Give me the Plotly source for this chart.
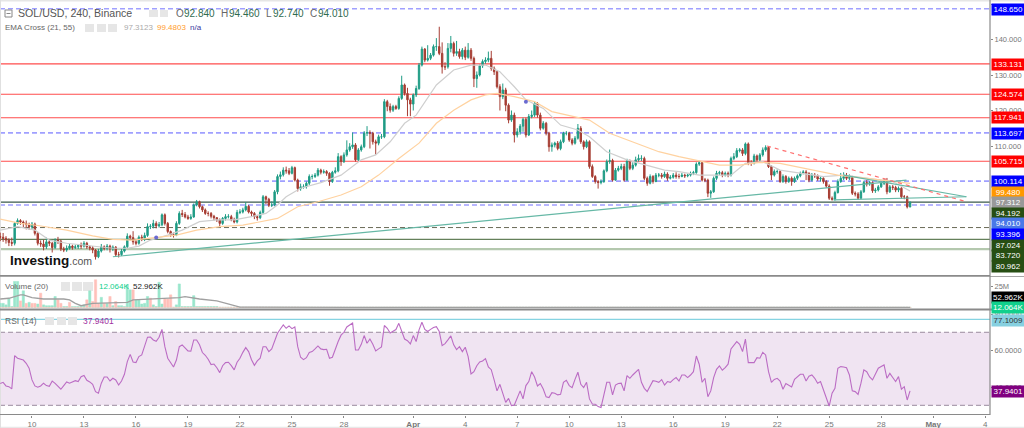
import pandas as pd
import plotly.graph_objects as go

# ---------- data ----------
closes = [84.3,84.0,83.5,82.8,82.6,88.2,89.0,88.6,88.2,87.9,87.2,88.0,85.4,82.6,82.4,81.6,83.0,82.6,81.4,83.5,
83.2,81.0,80.7,81.2,81.8,81.4,81.6,82.0,81.8,82.6,81.6,81.3,80.7,78.8,80.4,81.6,81.2,81.8,81.0,81.5,
79.4,79.4,80.4,81.6,84.6,84.2,83.0,82.6,84.3,84.0,84.8,87.3,87.4,88.2,87.5,87.8,90.6,88.2,85.9,85.0,
84.9,88.2,91.0,90.7,90.0,89.6,90.0,93.4,94.3,92.9,92.0,91.0,91.0,90.2,89.8,89.2,88.2,89.6,90.1,90.1,
89.2,88.6,91.3,91.4,92.0,93.0,91.4,91.0,90.1,89.8,91.3,95.7,95.0,93.3,93.4,97.1,101.4,101.9,103.2,103.0,
102.3,103.9,100.4,98.0,98.5,98.5,99.5,101.4,101.4,101.8,103.2,102.6,102.8,102.3,100.0,102.6,103.0,107.0,105.6,107.5,
108.9,109.8,110.3,106.1,108.9,109.8,113.6,113.8,113.6,111.2,110.8,112.6,112.6,122.5,121.1,120.1,121.1,120.6,123.4,127.2,
124.8,123.0,121.8,124.4,126.2,132.8,137.3,134.2,134.7,135.6,138.0,138.0,136.1,132.3,132.3,137.5,138.9,136.1,136.6,135.2,
137.0,135.0,137.0,134.7,129.0,130.0,132.6,133.8,134.2,134.7,131.9,130.9,126.7,123.9,125.8,121.5,117.3,118.7,113.1,114.0,
115.6,117.5,113.1,118.3,118.7,122.0,118.7,115.0,116.4,113.6,109.8,110.3,110.8,109.3,111.2,113.6,113.6,111.7,110.8,112.2,
115.0,111.2,109.8,111.2,104.2,101.4,100.0,99.7,100.0,103.0,105.6,105.9,100.4,103.2,103.7,104.2,100.4,105.8,103.7,104.6,
106.1,106.5,106.5,100.9,99.5,101.4,100.0,101.8,101.8,101.4,102.1,100.9,101.2,101.8,101.4,101.4,101.8,101.6,101.8,102.3,
102.5,104.9,105.3,100.4,100.4,96.7,97.1,100.9,102.3,102.5,101.8,102.3,101.8,106.5,107.0,108.7,108.9,107.9,110.6,105.1,
105.1,107.2,106.1,107.5,108.9,109.6,104.2,101.8,102.8,102.8,100.0,101.4,100.0,100.9,100.0,100.9,101.6,102.3,102.7,102.3,
100.4,101.8,101.6,100.7,100.9,100.0,98.7,95.3,95.0,96.9,100.0,100.9,101.4,100.9,101.1,96.7,96.5,95.3,97.1,99.7,
99.3,99.7,97.4,97.6,98.5,99.5,100.2,97.1,98.5,98.3,97.6,98.1,95.7,95.7,92.84,94.01]
highs = [85.6,85.5,84.6,84.0,84.2,88.6,89.6,89.4,89.0,89.0,88.4,88.6,88.4,85.8,83.4,83.6,84.2,83.6,83.0,84.0,
84.4,83.6,81.6,82.0,82.4,82.2,82.2,82.4,82.8,83.2,83.0,82.0,81.8,81.0,81.0,82.4,82.0,82.4,82.2,82.0,
81.8,80.2,81.0,82.0,85.4,85.0,86.0,83.6,84.8,85.0,85.6,88.2,88.0,89.2,88.8,88.6,91.0,91.0,88.6,86.2,
85.6,88.8,91.6,92.0,91.4,90.6,90.8,93.8,94.8,94.6,93.2,92.4,91.6,91.4,90.6,90.0,89.6,90.0,90.8,90.8,
90.6,89.8,92.0,92.2,92.6,94.2,93.4,91.8,91.4,90.6,91.8,96.2,96.0,95.4,94.4,97.6,102.0,102.8,104.0,104.2,
103.8,104.4,104.2,100.8,99.4,99.2,100.0,102.0,102.0,102.4,103.8,103.6,103.4,103.2,102.6,103.0,104.0,108.0,107.4,108.2,
111.6,110.8,113.8,110.8,109.4,110.4,114.2,115.6,114.4,114.0,111.8,113.2,113.4,123.2,123.0,122.0,121.6,121.6,124.0,129.8,
127.6,126.4,123.6,124.8,127.0,133.4,138.0,137.6,138.4,136.2,138.6,140.4,143.6,139.2,133.6,139.0,141.0,139.4,139.6,137.4,
137.6,138.0,139.0,137.6,135.2,131.0,133.0,134.4,135.0,136.6,136.8,132.4,131.2,127.4,127.6,126.4,122.0,120.0,119.4,115.0,
116.2,118.0,118.0,119.0,120.0,122.6,122.4,119.4,117.0,116.8,114.0,111.0,111.2,111.4,111.8,114.0,114.2,114.0,112.2,112.8,
116.2,115.6,111.6,111.8,111.6,104.8,101.8,100.4,100.6,103.4,106.2,109.0,106.4,103.8,104.4,105.0,105.0,106.4,106.2,105.4,
107.0,107.6,107.4,107.0,101.4,102.0,101.8,102.4,102.4,102.4,102.8,102.6,101.8,102.4,102.6,102.2,102.4,102.2,102.2,102.8,
103.0,105.4,105.8,105.6,101.0,100.8,97.6,101.4,103.0,103.0,103.0,102.8,102.8,107.0,108.0,109.4,109.4,109.4,111.0,111.0,
106.0,107.8,107.6,108.0,109.6,110.2,109.8,104.6,103.4,103.4,103.2,102.0,101.8,101.4,101.4,101.4,102.0,102.8,103.2,103.2,
102.6,102.4,102.4,102.0,101.4,101.2,100.4,99.2,95.8,97.4,100.6,102.4,102.6,102.4,102.0,101.6,97.2,97.0,97.6,100.2,
100.4,100.2,100.0,98.2,99.0,100.0,100.8,101.0,99.0,99.0,98.8,98.6,98.4,96.2,96.0,94.46]
lows = [83.2,83.0,82.5,81.8,81.8,82.0,87.8,87.8,87.0,86.5,86.4,86.6,84.8,82.0,81.6,80.6,81.0,81.8,80.0,81.0,
82.4,80.4,80.1,80.2,80.8,80.8,81.0,81.0,81.0,81.4,81.0,80.6,79.8,78.0,78.4,80.0,80.6,80.6,80.0,80.4,
78.8,78.6,79.0,80.0,81.2,83.4,82.2,82.0,82.2,83.2,83.2,84.4,86.6,86.8,86.8,87.0,87.4,87.6,85.4,84.4,
84.2,84.6,87.8,90.0,89.6,89.2,89.2,89.8,93.0,92.4,91.4,90.6,90.2,89.6,89.0,88.6,87.2,87.8,89.0,89.6,
88.8,88.2,88.2,90.8,91.0,91.6,91.0,90.2,89.4,89.0,89.4,90.8,93.6,92.8,92.8,93.0,96.4,100.6,101.4,102.2,
101.8,102.0,100.0,97.2,97.4,98.0,98.0,99.0,100.6,101.0,101.4,102.0,102.2,101.6,98.8,99.6,102.2,102.6,104.4,105.2,
107.0,108.4,109.2,105.6,105.8,108.4,109.4,112.8,109.3,110.4,107.6,110.2,112.0,112.2,119.8,119.4,119.6,120.2,120.2,123.0,
124.2,118.4,118.4,120.0,123.8,125.8,132.4,133.6,133.8,134.2,135.2,136.8,135.6,130.4,131.4,131.8,136.4,135.2,135.4,134.6,
134.4,134.2,134.6,134.0,126.6,126.4,129.6,132.0,133.2,133.6,131.2,130.0,126.2,120.0,123.2,119.8,116.4,116.8,111.0,112.4,
113.2,114.0,112.4,112.8,117.8,118.2,118.0,114.4,114.6,113.0,108.4,108.4,109.6,108.8,108.8,110.8,113.0,111.2,110.2,110.4,
111.8,110.6,109.0,109.4,103.6,101.0,99.4,98.0,99.2,99.6,102.6,105.0,100.0,100.2,102.8,103.2,100.0,100.2,103.2,103.2,
104.2,105.6,105.8,100.4,98.8,99.2,99.4,99.8,101.2,100.8,101.0,100.2,100.6,100.8,100.8,100.8,101.2,101.0,101.2,101.4,
101.8,102.2,104.4,100.0,99.8,95.6,95.4,96.8,100.4,101.8,101.2,101.4,101.2,101.4,106.0,106.6,108.2,107.2,107.4,104.6,
104.4,104.8,105.4,105.6,107.0,108.4,103.8,100.4,101.4,102.2,99.6,99.6,99.4,99.6,98.8,99.6,100.4,101.2,102.0,100.4,
99.8,100.0,101.0,100.2,100.0,99.4,98.2,94.8,94.6,94.6,96.6,99.6,100.4,100.4,100.4,96.2,95.8,94.8,95.0,96.8,
98.6,98.8,96.8,96.8,97.2,98.2,99.0,96.4,96.8,97.6,97.0,97.0,95.2,95.0,92.4,92.74]
opens = [84.5] + closes[:-1]

ema21_idx = [0,6,12,17,23,29,35,39,44,48,52,58,63,69,75,81,87,92,96,99,104,111,118,125,130,135,140,144,151,157,163,168,173,178,182,188,194,200,204,210,217,224,230,235,242,246,253,258,264,270,278,285,292,300,309,315]
ema21_val = [86.3,87.3,86.3,83.5,82.6,82.1,81.5,81.2,81.2,81.8,83.5,84.9,86.3,88.7,89.2,89.2,90.1,91.0,93.4,95.7,98.1,99.7,101.8,106.1,107.5,111.2,116.4,118.7,127.2,131.4,132.8,132.8,130.9,126.7,123.0,120.6,115.9,114.5,112.6,108.4,106.1,104.6,103.2,102.8,101.8,101.8,101.8,105.1,105.6,103.2,102.3,101.4,101.8,100.9,100.0,97.31]
ema55_idx = [0,7,13,23,32,39,46,54,61,68,76,84,96,103,110,118,125,131,138,145,151,157,163,168,172,178,185,191,198,204,211,220,228,235,242,249,256,263,270,281,290,300,309,315]
ema55_val = [89.4,88.2,87.6,86.3,84.7,83.7,83.5,84.3,84.9,86.3,87.3,87.7,89.6,92.9,94.3,96.2,98.5,101.8,106.5,110.8,116.4,120.1,123.0,124.4,124.8,123.9,122.5,119.7,118.3,117.3,113.6,110.8,108.4,107.0,105.8,104.6,104.6,105.4,105.1,103.2,101.8,100.9,100.0,99.48]
anchor_idx = [54,182]
anchor_val = [84.2,122.5]

rsi_values = [41.9,42.6,40.6,40.2,39.0,57.2,55.8,55.2,54.8,53.0,50.3,43.9,40.6,39.9,40.6,42.1,40.8,40.4,43.3,42.0,
40.2,38.8,40.8,42.8,42.1,42.6,43.5,43.0,45.7,46.3,43.7,42.8,41.5,37.5,36.6,42.1,45.5,45.5,43.3,44.8,
43.9,41.1,43.3,47.0,53.9,57.9,53.7,53.4,56.7,57.6,62.1,67.3,67.4,65.8,65.1,67.3,71.6,62.1,55.8,53.0,
51.0,54.8,62.1,63.1,61.4,59.8,59.6,65.8,65.8,63.2,58.9,57.4,55.2,52.3,52.6,50.6,47.9,51.7,53.4,53.6,
51.7,49.4,53.6,55.8,59.0,61.6,59.4,55.0,51.9,54.3,55.8,62.1,62.1,59.4,60.9,64.9,69.5,71.8,74.0,72.2,
73.5,72.0,72.9,62.1,56.3,55.0,56.1,58.9,59.4,60.9,62.5,60.9,60.5,60.7,55.8,56.3,60.9,64.9,68.4,70.0,
72.9,74.0,75.1,60.3,60.3,63.4,68.2,64.0,66.3,63.4,59.8,60.9,62.0,73.7,72.2,69.6,70.4,71.5,74.9,70.4,
66.3,65.4,63.6,68.2,64.9,71.3,75.5,71.6,70.4,71.6,72.6,73.1,70.4,62.7,63.8,65.8,68.0,63.1,60.5,62.1,
59.4,61.8,56.7,47.2,48.4,51.7,53.7,54.3,55.6,51.0,49.5,43.9,37.9,41.5,36.6,31.6,33.8,29.8,30.2,34.2,
37.9,33.5,40.8,43.0,48.4,45.5,40.6,41.9,38.9,34.6,34.2,36.9,36.6,35.7,36.0,42.6,43.7,40.8,39.7,44.2,
48.1,41.5,39.7,42.6,33.5,30.7,30.6,29.3,28.8,35.7,42.6,42.6,35.7,41.1,41.9,42.1,37.9,46.3,44.8,46.6,
48.4,49.7,42.6,39.3,37.5,40.6,43.5,43.2,42.6,44.1,41.1,43.0,42.6,44.1,45.2,43.3,46.6,46.6,45.2,46.6,
48.4,57.0,52.5,42.6,44.8,34.7,37.9,45.2,49.7,51.6,49.2,50.6,52.5,60.9,62.7,64.9,63.4,59.4,66.3,53.4,
53.4,53.4,56.1,55.8,59.0,57.6,48.4,42.6,44.2,44.8,43.3,38.8,41.9,41.1,40.0,44.2,45.7,47.0,47.0,43.3,
45.9,46.6,44.8,42.1,43.0,38.9,34.7,29.6,36.6,39.3,50.3,51.2,51.0,50.6,46.6,37.9,37.5,36.0,42.1,49.4,
48.4,45.5,43.9,47.5,50.3,51.2,52.1,44.8,47.5,45.2,43.0,45.7,38.8,40.2,32.9,37.94]

vol_up_head = [4.8,4.8,3,10.9,1,31,31,0,19.8,0,6,0,0,4,0,3,2,2,2,13,
0,0,1,1,0,1,1,1,1,3,0,19.8,0,0,0,12,0,4.8,0,2,
0,2,2,1,27,21,0,9,9,4,4.8,13,0,3,1,30,4,0,0,0,
0,3,28,1,1,1,1,14,1,1,1,1,1,1,1,1]
vol_dn_head = [0,0,0,0,0,0,0,7.7,0,4.8,0,4.8,4.8,0,17,0,0,0,0,0,
9,4.8,0,0,6,0,0,0,0,0,9,0,7,33,4.8,0,4.8,0,13,0,
7,0,0,0,0,0,21,0,0,0,0,0,11,0,0,0,0,10,10,15,
0,0,0,0,0,0,0,0,0,0,0,0,0,0,0,0]
vol_tail = [0.08,0.06,0.05,0.07,0.06,0.05,0.09,0.06,0.05,0.06,0.07,0.05,0.06,0.08,0.05,0.05,0.06,0.07,0.05,0.06,
0.08,0.07,0.06,0.05,0.05,0.06,0.08,0.05,0.06,0.07,0.06,0.05,0.07,0.05,0.06,0.05,0.09,0.07,0.05,0.06,
0.05,0.06,0.08,0.06,0.05,0.07,0.05,0.06,0.05,0.06,0.09,0.06,0.05,0.07,0.06,0.05,0.06,0.08,0.05,0.06,
0.07,0.05,0.06,0.05,0.08,0.06,0.05,0.07,0.06,0.05,0.09,0.07,0.06,0.05,0.06,0.07,0.05,0.06,0.08,0.05,
0.06,0.05,0.07,0.06,0.05,0.06,0.08,0.07,0.05,0.06,0.05,0.06,0.07,0.05,0.09,0.06,0.05,0.06,0.07,0.05,
0.06,0.08,0.05,0.06,0.07,0.05,0.06,0.05,0.08,0.06,0.05,0.07,0.06,0.05,0.06,0.09,0.07,0.05,0.06,0.05,
0.06,0.07,0.05,0.08,0.06,0.05,0.06,0.07,0.05,0.06,0.08,0.05,0.06,0.07,0.06,0.05,0.09,0.06,0.05,0.07,
0.05,0.06,0.08,0.05,0.06,0.07,0.05,0.06,0.05,0.08,0.06,0.05,0.07,0.06,0.05,0.06,0.07,0.09,0.05,0.06,
0.05,0.06,0.08,0.07,0.05,0.06,0.05,0.07,0.06,0.05,0.08,0.06,0.05,0.06,0.07,0.05,0.09,0.06,0.05,0.06,
0.07,0.05,0.06,0.08,0.05,0.06,0.07,0.05,0.06,0.05,0.08,0.06,0.05,0.07,0.06,0.05,0.06,0.09,0.07,0.05,
0.06,0.05,0.07,0.06,0.05,0.08,0.06,0.05,0.06,0.07,0.05,0.06,0.08,0.05,0.06,0.07,0.05,0.09,0.06,0.05,
0.07,0.06,0.05,0.06,0.08,0.05,0.06,0.07,0.05,0.06,0.05,0.08,0.06,0.05,0.07,0.06,0.05,0.06,0.05,0.012]
vol_ma_idx = [0,3,7,8,11,15,22,24,26,28,32,39,44,46,53,62,64,69,75,79,83,120,200,280,315]
vol_ma_val = [10.0,10.9,14.9,14.9,11.7,10.0,10.0,8.9,4.8,2.0,4.8,6.0,6.0,8.9,10.0,11.7,12.9,10.0,7.7,4.0,0.3,0.06,0.06,0.06,0.053]

dashed_levels = [148.650,113.697,100.114,93.396]
red_levels = [133.131,124.574,117.941,105.715]
rsi_hi, rsi_lo, rsi_mark = 70, 30, 77.1009
tick_dates = ["03-10","03-13","03-16","03-19","03-22","03-25","03-28","04-01","04-04","04-07","04-10","04-13","04-16","04-19","04-22","04-25","04-28","05-01","05-04"]
tick_text = ["10","13","16","19","22","25","28","<b>Apr</b>","4","7","10","13","16","19","22","25","28","<b>May</b>","4"]
price_labels = [("148.650",9,"#0000ff"),("133.131",64.5,"#ff0000"),("124.574",94.5,"#ff0000"),("117.941",117.5,"#ff0000"),
("113.697",133,"#0000ff"),("105.715",161.5,"#ff0000"),("100.114",181,"#0000ff"),("99.480",192,"#ff9800"),("97.312",202.5,"#999999"),
("94.192",213,"#274e13"),("94.010",224,"#4a78e8"),("93.396",234.5,"#0000ff"),("87.024",245.5,"#274e13"),("83.720",256,"#274e13"),("80.962",266.5,"#274e13")]

# ---------- layout helpers ----------
W, H = 1024, 428
FONT = "Liberation Sans"
def py(y): return 1 - y / H
def fx(x): return x / W
YEAR = "2026-"
dates = pd.date_range("2026-03-08 04:00", periods=len(closes), freq="4h")
assert len(opens) == len(highs) == len(lows) == len(rsi_values) == len(closes), (len(closes), len(highs), len(lows), len(rsi_values))
n_tail = len(closes) - len(vol_up_head)
tail = vol_tail[:n_tail]
tail_up = [v if closes[len(vol_up_head) + k] >= opens[len(vol_up_head) + k] else 0 for k, v in enumerate(tail)]
tail_dn = [v if closes[len(vol_up_head) + k] < opens[len(vol_up_head) + k] else 0 for k, v in enumerate(tail)]
vol_up = vol_up_head + tail_up
vol_dn = vol_dn_head + tail_dn

X_RANGE = ["2026-03-08 03:42", "2026-05-04 06:42"]
xr = fx(990)

fig = go.Figure()
fig.add_trace(go.Candlestick(x=dates, open=opens, high=highs, low=lows, close=closes, whiskerwidth=0,
    increasing=dict(line=dict(color="#1f9c85", width=1), fillcolor="#1f9c85"),
    decreasing=dict(line=dict(color="#a63d33", width=1), fillcolor="#a63d33"),
    xaxis="x", yaxis="y", showlegend=False))
fig.add_trace(go.Scatter(x=dates[ema21_idx], y=ema21_val, mode="lines", line=dict(color="#cfcfcf", width=1.2), xaxis="x", yaxis="y", showlegend=False))
fig.add_trace(go.Scatter(x=dates[ema55_idx], y=ema55_val, mode="lines", line=dict(color="#ffd2a0", width=1.2), xaxis="x", yaxis="y", showlegend=False))
fig.add_trace(go.Scatter(x=dates[anchor_idx], y=anchor_val, mode="markers", marker=dict(color="#6a6ad0", size=4), xaxis="x", yaxis="y", showlegend=False))
fig.add_trace(go.Bar(x=dates, y=vol_up, marker=dict(color="#9ae6cc", line=dict(color="#9ae6cc", width=0.5)), xaxis="x2", yaxis="y2", showlegend=False))
fig.add_trace(go.Bar(x=dates, y=vol_dn, marker=dict(color="#ffc0ba", line=dict(color="#ffc0ba", width=0.5)), xaxis="x2", yaxis="y2", showlegend=False))
fig.add_trace(go.Scatter(x=dates[vol_ma_idx], y=vol_ma_val, mode="lines", line=dict(color="#a0a0a0", width=1.3), xaxis="x2", yaxis="y2", showlegend=False))
fig.add_trace(go.Scatter(x=dates, y=rsi_values, mode="lines", line=dict(color="#bb6cc4", width=1.1), xaxis="x3", yaxis="y3", showlegend=False))

shapes = []
def seg(x0, y0, x1, y1, color, width=1, dash=None, layer="above", xref="paper", yref="paper"):
    shapes.append(dict(type="line", x0=x0, y0=y0, x1=x1, y1=y1, xref=xref, yref=yref, layer=layer,
                       line=dict(color=color, width=width, dash=dash or "solid")))
def rect(x0, y0, x1, y1, color):
    shapes.append(dict(type="rect", x0=fx(x0), x1=fx(x1), y0=py(y0), y1=py(y1), xref="paper", yref="paper",
                       fillcolor=color, line=dict(width=0), layer="below"))

for v in dashed_levels:
    seg(0, v, xr, v, "#a0a0ff", 1.6, "5px,3px", "below", yref="y")
for v in red_levels:
    seg(0, v, xr, v, "#ff4d4d", 1.1, None, "below", yref="y")
seg(0, 94.192, xr, 94.192, "#3a5a4a", 1.2, None, "below", yref="y")
seg(0, 87.024, xr, 87.024, "#6a6a58", 1, "5px,3px", "below", yref="y")
seg(0, 83.720, xr, 83.720, "#64805a", 1.2, None, "below", yref="y")
seg(0, 80.962, xr, 80.962, "#b4c8ae", 2.4, None, "below", yref="y")

seg("2026-03-14 16:00", 78.8, "2026-04-29 11:00", 100.4, "#66b8a6", 1.2, None, "above", "x", "y")
seg("2026-04-25 20:00", 101.8, "2026-05-02 22:00", 95.7, "#66b8a6", 1.2, None, "above", "x", "y")
seg("2026-04-25 06:00", 94.8, "2026-05-02 22:00", 95.7, "#66b8a6", 1.2, None, "above", "x", "y")
seg("2026-04-21 10:00", 110.0, "2026-05-02 22:00", 94.3, "#ff7070", 1.2, "4px,4px", "above", "x", "y")

shapes.append(dict(type="rect", x0=0, x1=xr, xref="paper", y0=rsi_lo, y1=rsi_hi, yref="y3", fillcolor="#f0e4f2", line=dict(width=0), layer="below"))
seg(0, rsi_hi, xr, rsi_hi, "#9a8a9e", 1, "5px,3px", "below", yref="y3")
seg(0, rsi_lo, xr, rsi_lo, "#9a8a9e", 1, "5px,3px", "below", yref="y3")
seg(0, rsi_mark, xr, rsi_mark, "#86d4e2", 1.2, None, "below", yref="y3")

seg(0, py(275.5), xr, py(275.5), "#8a8a8a", 1)
seg(0, py(276.5), fx(W), py(276.5), "#909090", 0.8)
seg(0, py(309.5), fx(W), py(309.5), "#8a8a8a", 2)
seg(0, py(414.5), xr, py(414.5), "#8a8a8a", 1)
seg(xr, py(0), xr, py(415), "#8a8a8a", 1.2)
rect(0, 0, W, 1.5, "#e6e6e6")
rect(0, 426.8, W, 428, "#e8e8e8")
rect(0, 0, 1, 428, "#e0e0e0")

for row in [((149, 158), (160, 168)), ((85, 94), (97, 106), (108, 117)), ((61, 70), (72, 82), (83, 93)), ((45, 54), (57, 66), (68, 77))]:
    y0, y1 = {149: (10, 17), 85: (24, 32), 61: (282, 291), 45: (317, 325)}[row[0][0]]
    for a, b in row:
        rect(a, y0, b, y1, "#e6e6e6")
shapes.append(dict(type="rect", x0=fx(5), x1=fx(12), y0=py(17), y1=py(10), xref="paper", yref="paper", line=dict(color="#888", width=1), fillcolor="white"))
seg(fx(6.5), py(13.5), fx(10.5), py(13.5), "#888", 1)

ann = []
def text(x, y, s, color="#555", size=10, anchor="left", **kw):
    ann.append(dict(x=fx(x), y=py(y), xref="paper", yref="paper", text=s, showarrow=False, xanchor=anchor, yanchor="middle",
                    font=dict(family=FONT, size=size, color=color), **kw))
def tag(y, s, bg, color="white"):
    ann.append(dict(x=fx(990.5), y=py(y), xref="paper", yref="paper", text=s, showarrow=False, xanchor="left", yanchor="middle",
                    width=32.5, height=10.5, bgcolor=bg, borderpad=0, align="center", font=dict(family=FONT, size=8, color=color)))

for s, y, c in price_labels:
    tag(y, s, c)
tag(297, "52.962K", "#000000")
tag(307, "12.064K", "#10d08c")
tag(320, "77.1009", "#86d0e0", "#333333")
tag(391, "37.9401", "#800080")

text(16, 13.5, "SOL/USD, 240, Binance", "#555", 10.6)
text(174, 13.5, "O", "#666", 10); text(182, 13.5, "92.840", "#2f6b4f", 10)
text(219, 13.5, "H", "#666", 10); text(227, 13.5, "94.460", "#2f6b4f", 10)
text(264, 13.5, "L", "#666", 10); text(271, 13.5, "92.740", "#2f6b4f", 10)
text(308, 13.5, "C", "#666", 10); text(316, 13.5, "94.010", "#2f6b4f", 10)
text(3, 27.5, "EMA Cross (21, 55)", "#666", 8)
text(122, 27.5, "97.3123", "#aaaaaa", 8)
text(155, 27.5, "99.4803", "#ff9d2e", 8)
text(188, 27.5, "n/a", "#3b3ba0", 8)
text(3, 286.5, "Volume (20)", "#666", 8)
text(97, 286.5, "12.064K", "#10d08c", 8)
text(131, 286.5, "52.962K", "#222222", 8)
text(3, 320.5, "RSI (14)", "#666", 8.5)
text(81, 320.5, "37.9401", "#a030a0", 8.5)
text(8, 260, "<b>Investing</b><span style='font-size:10.5px;color:#555'>.com</span>", "#111", 13.5)

axis_common = dict(showgrid=False, zeroline=False, automargin=False)
x_common = dict(range=X_RANGE, domain=[0, xr], type="date", showline=False, **axis_common)
y_common = dict(side="right", showline=False, ticks="outside", ticklen=2, tickcolor="#888",
                tickfont=dict(family=FONT, size=7.5, color="#777"), **axis_common)
fig.update_layout(
    width=W, height=H, autosize=False, margin=dict(l=0, r=0, t=0, b=0, autoexpand=False),
    paper_bgcolor="white", plot_bgcolor="rgba(0,0,0,0)", barmode="overlay", bargap=0.2,
    showlegend=False, shapes=shapes, annotations=ann, hovermode=False,
    xaxis=dict(anchor="y", showticklabels=False, ticks="", rangeslider=dict(visible=False), **x_common),
    xaxis2=dict(anchor="y2", showticklabels=False, ticks="", **x_common),
    xaxis3=dict(anchor="y3", tickmode="array", tickvals=[YEAR + d for d in tick_dates], ticktext=tick_text, ticks="outside", ticklen=2,
                tickcolor="#888", tickfont=dict(family=FONT, size=8, color="#777"), **x_common),
    yaxis=dict(anchor="x", domain=[py(275), py(1.5)], range=[73.66, 150.71], tickmode="array", tickvals=[110, 120, 130, 140, 150], tickformat=".3f", **y_common),
    yaxis2=dict(anchor="x2", domain=[py(309), py(277)], range=[-1.95, 36.3], tickmode="array", tickvals=[25], ticktext=["25M"], **y_common),
    yaxis3=dict(anchor="x3", domain=[py(414.5), py(310)], range=[24.96, 82.2], tickmode="array", tickvals=[40, 60, 80], tickformat=".4f", **y_common),
)
fig.write_html("out.html", config={"displayModeBar": False},
               post_script="document.body.style.margin='0';document.body.style.overflow='hidden';")
